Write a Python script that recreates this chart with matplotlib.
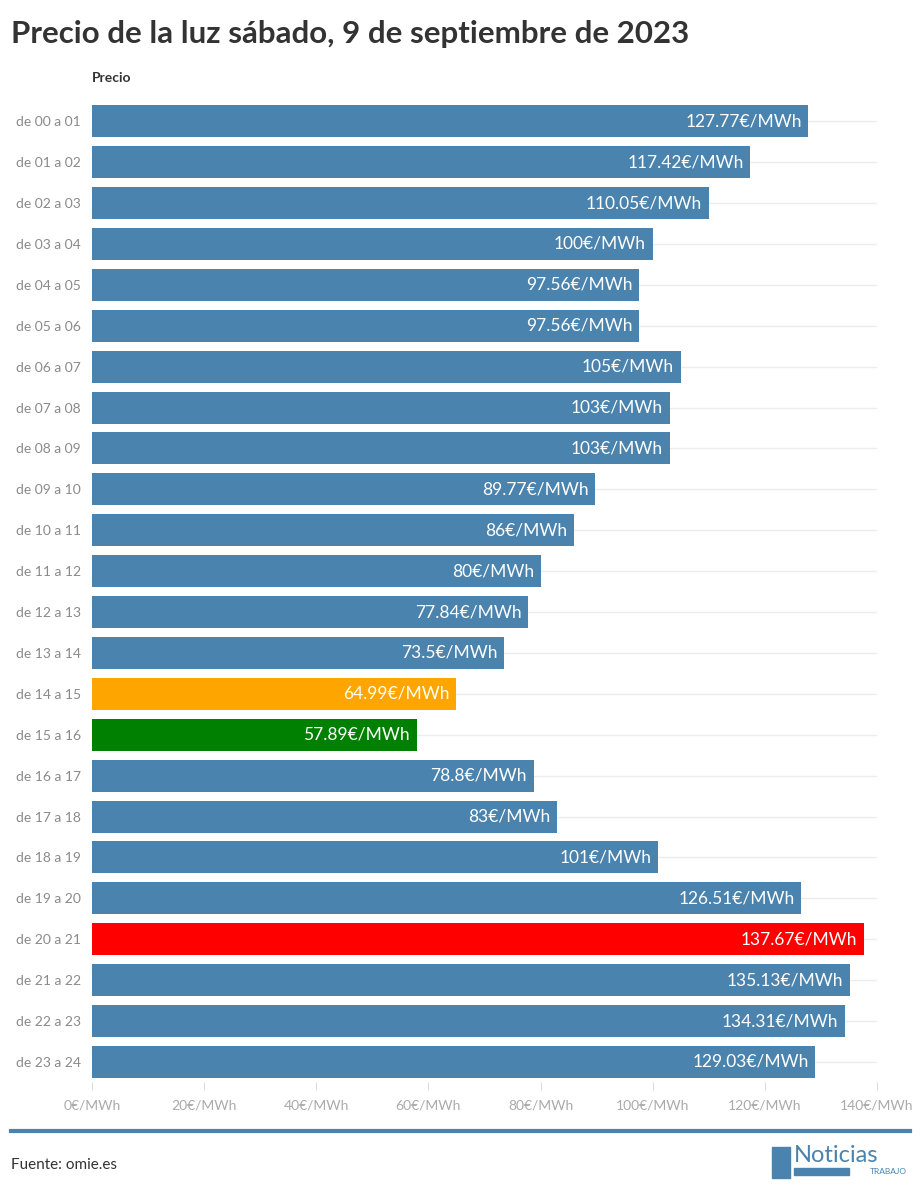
import matplotlib
matplotlib.use("Agg")
import matplotlib.pyplot as plt
from matplotlib.patches import Rectangle

plt.rcParams['font.family'] = ['Lato', 'DejaVu Sans']

HOURS = [f"de {h:02d} a {h+1:02d}" for h in range(24)]
PRICES = [127.77, 117.42, 110.05, 100, 97.56, 97.56, 105, 103, 103, 89.77, 86, 80,
          77.84, 73.5, 64.99, 57.89, 78.8, 83, 101, 126.51, 137.67, 135.13, 134.31, 129.03]
LABELS = ["127.77", "117.42", "110.05", "100", "97.56", "97.56", "105", "103", "103",
          "89.77", "86", "80", "77.84", "73.5", "64.99", "57.89", "78.8", "83", "101",
          "126.51", "137.67", "135.13", "134.31", "129.03"]
XTICKS = [0, 20, 40, 60, 80, 100, 120, 140]

BLUE = "#4a83ad"
colors = [BLUE] * 24
colors[14] = "#ffa500"
colors[15] = "#008000"
colors[20] = "#ff0000"

fig = plt.figure(figsize=(9.21, 12), dpi=100)
ax = fig.add_axes([0.0999, 0.098, 0.8523, 0.818])
y = list(range(24))
for yi in y:
    ax.axhline(yi, color="#ececec", lw=1, zorder=0)
ax.barh(y, PRICES, height=0.78, color=colors, zorder=2)
for yi, v, lab in zip(y, PRICES, LABELS):
    ax.text(v - 1.2, yi, f"{lab}€/MWh", ha="right", va="center", color="white",
            fontsize=12.5, zorder=3)
ax.set_xlim(0, 140)
ax.set_ylim(23.5, -0.5)
ax.set_yticks(y)
ax.set_yticklabels(HOURS, fontsize=10, color="#8a8a8a")
ax.set_xticks(XTICKS)
ax.set_xticklabels([f"{t}€/MWh" for t in XTICKS], fontsize=10, color="#aaaaaa")
ax.tick_params(axis="y", length=0, pad=8)
ax.tick_params(axis="x", length=6, color="#dddddd", pad=6)
for s in ax.spines.values():
    s.set_visible(False)

fig.text(0.012, 0.972, "Precio de la luz sábado, 9 de septiembre de 2023", fontsize=22.5,
         fontweight="bold", color="#333333", va="center")
fig.text(0.1, 0.935, "Precio", fontsize=10, fontweight="bold", color="#333333", va="center")
fig.add_artist(plt.Line2D([0.012, 0.988], [0.0575, 0.0575], color="#4a83ad", lw=3))
fig.text(0.012, 0.029, "Fuente: omie.es", fontsize=11, color="#333333", va="center")
# logo
fig.add_artist(Rectangle((0.838, 0.018), 0.02, 0.026, color="#4a83ad"))
fig.text(0.862, 0.037, "Noticias", fontsize=17, color="#4a83ad", va="center")
fig.add_artist(Rectangle((0.862, 0.021), 0.06, 0.006, color="#4a83ad"))
fig.text(0.985, 0.024, "TRABAJO", fontsize=6, color="#4a83ad", va="center", ha="right")

fig.savefig("out.png", dpi=100)
